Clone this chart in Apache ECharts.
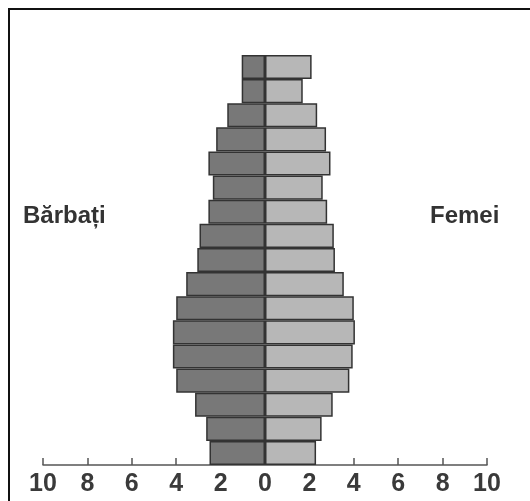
<!DOCTYPE html>
<html>
<head>
<meta charset="utf-8">
<script src="https://cdn.jsdelivr.net/npm/echarts@6/dist/echarts.min.js"></script>
<style>
  html, body { margin: 0; padding: 0; background: #fff; }
  #chart { width: 530px; height: 501px; }
</style>
</head>
<body>
<div id="chart"></div>
<script>
// grupe de varsta, de jos in sus
var ageGroups = ['0-4', '5-9', '10-14', '15-19', '20-24', '25-29', '30-34', '35-39', '40-44',
    '45-49', '50-54', '55-59', '60-64', '65-69', '70-74', '75-79', '80+'];
// procente
var males = [2.5, 2.65, 3.15, 4.0, 4.15, 4.15, 4.0, 3.55, 3.05, 2.95, 2.55, 2.35, 2.55, 2.2, 1.7, 1.05, 1.05];
var females = [2.3, 2.55, 3.05, 3.8, 3.95, 4.05, 4.0, 3.55, 3.15, 3.1, 2.8, 2.6, 2.95, 2.75, 2.35, 1.7, 2.1];
var tickValues = [-10, -8, -6, -4, -2, 0, 2, 4, 6, 8, 10];

var myChart = echarts.init(document.getElementById('chart'));

var option = {
    backgroundColor: '#fff',
    animation: false,
    grid: { left: 43, right: 43, top: 55, bottom: 36 },
    xAxis: {
        type: 'value',
        min: tickValues[0],
        max: tickValues[tickValues.length - 1],
        interval: 2,
        splitLine: { show: false },
        axisLine: { show: true, lineStyle: { color: '#555', width: 1.5 } },
        axisTick: { show: true, inside: true, length: 7, lineStyle: { color: '#555', width: 1.5 } },
        axisLabel: {
            margin: 7,
            color: '#3a3a3a',
            fontSize: 25,
            fontWeight: 'bold',
            fontFamily: 'Liberation Sans, Arial, sans-serif',
            formatter: function (v) { return Math.abs(v); }
        }
    },
    yAxis: {
        type: 'category',
        data: ageGroups,
        axisLine: { show: false },
        axisTick: { show: false },
        axisLabel: { show: false },
        splitLine: { show: false }
    },
    series: [
        {
            name: 'Bărbați',
            type: 'bar',
            stack: 'pop',
            barCategoryGap: '0%',
            data: males.map(function (v) { return -v; }),
            itemStyle: { color: '#787878', borderColor: '#333', borderWidth: 1.5 }
        },
        {
            name: 'Femei',
            type: 'bar',
            stack: 'pop',
            barCategoryGap: '0%',
            data: females,
            itemStyle: { color: '#b7b7b7', borderColor: '#333', borderWidth: 1.5 }
        }
    ],
    graphic: [
        {
            type: 'rect',
            shape: { x: 9, y: 9, width: 560, height: 560 },
            style: { fill: 'none', stroke: '#111', lineWidth: 2 },
            silent: true
        },
        {
            type: 'text',
            x: 23,
            y: 216,
            style: {
                text: 'Bărbați',
                fill: '#333',
                verticalAlign: 'middle',
                font: 'bold 24px Liberation Sans, Arial, sans-serif'
            }
        },
        {
            type: 'text',
            x: 430,
            y: 216,
            style: {
                text: 'Femei',
                fill: '#333',
                verticalAlign: 'middle',
                font: 'bold 24px Liberation Sans, Arial, sans-serif'
            }
        }
    ]
};

myChart.setOption(option);
</script>
</body>
</html>
